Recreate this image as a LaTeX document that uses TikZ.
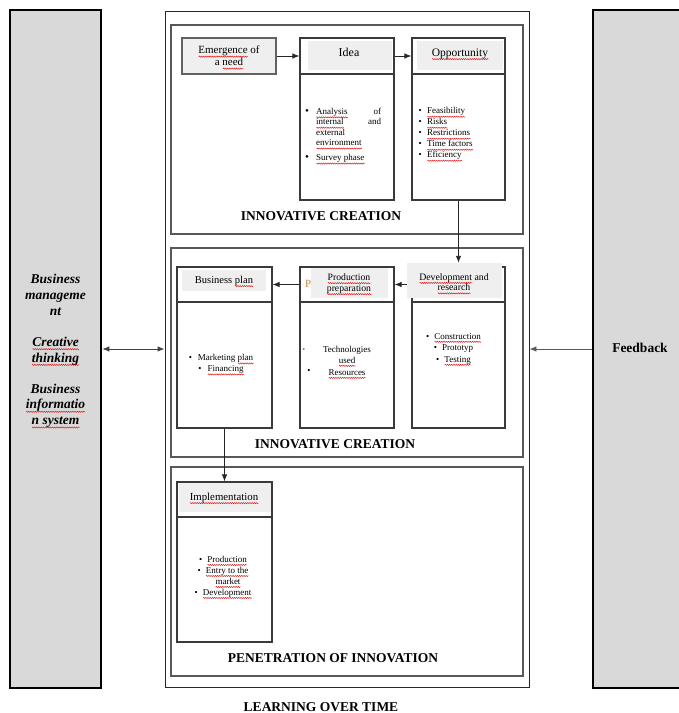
\documentclass[tikz,border=0pt]{standalone}
\usepackage{fontspec}
\setmainfont{Liberation Serif}
\usetikzlibrary{arrows.meta,decorations.pathmorphing}
\definecolor{panelgray}{HTML}{D9D9D9}
\definecolor{headgray}{HTML}{EFEFEF}
\definecolor{boxline}{HTML}{3A3A3A}
\definecolor{porange}{HTML}{C8843C}
\definecolor{spellred}{HTML}{E02020}
\newsavebox\sqbox
\newcommand\sq[1]{\sbox\sqbox{#1}\rlap{\raisebox{-2.8pt}[0pt][0pt]{\tikz[x=1pt,y=1pt,baseline=0pt]{\draw[spellred,line width=0.5pt,decorate,decoration={zigzag,amplitude=0.6pt,segment length=2.2pt}] (0,0) -- (\the\wd\sqbox,0);}}}\usebox\sqbox}
\begin{document}
\begin{tikzpicture}[x=1pt,y=-1pt,
  panel/.style={draw=black, line width=2.6pt, fill=panelgray, inner sep=0},
  mainbox/.style={draw=black!85, line width=0.9pt, inner sep=0},
  sect/.style={draw=boxline!85, line width=1.3pt, inner sep=0},
  cell/.style={draw=boxline, line width=1.1pt, inner sep=0},
  headfill/.style={fill=headgray, inner sep=0},
  txt/.style={inner sep=0, font=\fontsize{9}{11}\selectfont},
  titletxt/.style={inner sep=0, font=\bfseries\fontsize{13.5}{16}\selectfont},
  arr/.style={-{Latex[length=7pt,width=5.5pt]}, line width=0.9pt, draw=black!85},
  darr/.style={{Latex[length=7pt,width=5.5pt]}-{Latex[length=7pt,width=5.5pt]}, line width=0.9pt, draw=black!75}
]
\useasboundingbox (0,0) rectangle (679,713);

% side panels
\node[panel, minimum width=91pt, minimum height=678pt] (leftp) at (55.5,349) {};
\node[panel, minimum width=92pt, minimum height=678pt] (rightp) at (639,349) {};
\node[inner sep=0, align=center, font=\bfseries\itshape\fontsize{13.5}{15.7}\selectfont] (lefttxt) at (55.5,351)
  {Business\\manageme\\nt\\[15.5pt]\sq{Creative}\\\sq{thinking}\\[15.5pt]Business\\\sq{informatio}\\\sq{n system}};
\node[titletxt, anchor=mid] (feedtxt) at (640,350) {Feedback};

% main frame and sections
\node[mainbox, minimum width=364pt, minimum height=676pt] (main) at (347,349) {};
\node[sect, minimum width=352pt, minimum height=209pt] (sec1) at (347,129.5) {};
\node[sect, minimum width=352pt, minimum height=209pt] (sec2) at (347,352.5) {};
\node[sect, minimum width=352pt, minimum height=209pt] (sec3) at (347,571.5) {};

% ---- row 1
\node[cell, fill=headgray, draw=boxline!80, minimum width=94pt, minimum height=36pt, align=center,
  font=\fontsize{11}{12}\selectfont] (emerg) at (229,56) {\sq{Emergence} of\\a \sq{need}};

\node[cell, minimum width=94pt, minimum height=36pt] (ideatop) at (347,56) {};
\node[cell, minimum width=94pt, minimum height=126pt] (ideabody) at (347,137) {};
\node[headfill, minimum width=84pt, minimum height=29pt] (ideafill) at (350,55.5) {};
\node[inner sep=0, anchor=mid, font=\fontsize{12}{14}\selectfont] (ideatxt) at (349,54) {Idea};

\node[cell, minimum width=93pt, minimum height=36pt] (opptop) at (458.5,56) {};
\node[cell, minimum width=93pt, minimum height=126pt] (oppbody) at (458.5,137) {};
\node[headfill, minimum width=86pt, minimum height=29pt] (oppfill) at (460,55.5) {};
\node[inner sep=0, anchor=mid, font=\fontsize{11.5}{14}\selectfont] (opptxt) at (460,54) {\sq{Opportunity}};

\node[txt, anchor=north west, align=left, font=\fontsize{9}{10.4}\selectfont] (idealist) at (305,108)
  {\makebox[11pt][l]{\fontsize{11}{10.4}\selectfont\textbullet}\hbox to 65pt{\sq{Analysis}\hfill of}\\
   \hspace*{11pt}\hbox to 65pt{\sq{internal}\hfill and}\\
   \hspace*{11pt}external\\
   \hspace*{11pt}\sq{environment}\\[4.6pt]
   \makebox[11pt][l]{\fontsize{11}{10.4}\selectfont\textbullet}\sq{Survey phase}};

\node[txt, anchor=north west, align=left] (opplist) at (418.5,107.5)
  {\makebox[8.5pt][l]{\textbullet}\sq{Feasibility}\\
   \makebox[8.5pt][l]{\textbullet}\sq{Risks}\\
   \makebox[8.5pt][l]{\textbullet}\sq{Restrictions}\\
   \makebox[8.5pt][l]{\textbullet}\sq{Time factors}\\
   \makebox[8.5pt][l]{\textbullet}\sq{Eficiency}};

\node[titletxt, anchor=mid] (title1) at (321,218) {INNOVATIVE CREATION};

% ---- row 2
\node[cell, minimum width=95pt, minimum height=35pt] (bustop) at (224.5,284.5) {};
\node[cell, minimum width=95pt, minimum height=126pt] (busbody) at (224.5,365) {};
\node[headfill, minimum width=84pt, minimum height=21pt] (busfill) at (224,280.5) {};
\node[inner sep=0, anchor=mid, font=\fontsize{10.5}{12}\selectfont] (bustxt) at (224,281) {Business \sq{plan}};

\node[cell, minimum width=94pt, minimum height=35pt] (prodtop) at (347,284.5) {};
\node[cell, minimum width=94pt, minimum height=126pt] (prodbody) at (347,365) {};
\node[inner sep=0, anchor=mid west, text=porange, font=\fontsize{11}{12}\selectfont] (pfrag) at (305,285) {P};
\node[headfill, minimum width=77pt, minimum height=30pt] (prodfill) at (349.5,283) {};
\node[inner sep=0, align=center, font=\fontsize{9.7}{11}\selectfont] (prodtxt) at (349,283.5) {\sq{Production}\\\sq{preparation}};

\node[cell, minimum width=93pt, minimum height=35pt] (devtop) at (458.5,284.5) {};
\node[cell, minimum width=93pt, minimum height=126pt] (devbody) at (458.5,365) {};
\node[headfill, minimum width=95pt, minimum height=35pt] (devfill) at (454.5,280.5) {};
\node[inner sep=0, align=center, font=\fontsize{9.8}{10.5}\selectfont] (devtxt) at (454,282) {\sq{Development} and\\\sq{research}};

\node[txt, align=center] (buslist) at (221,364)
  {\textbullet\hspace{6pt}Marketing \sq{plan}\\\textbullet\hspace{6pt}\sq{Financing}};

\node[inner sep=0, anchor=mid, font=\fontsize{6}{6}\selectfont] (pb1) at (304,349) {\textbullet};
\node[inner sep=0, anchor=mid, font=\fontsize{9}{9}\selectfont] (pb2) at (309,371.5) {\textbullet};
\node[txt, align=center] (prodlist) at (347,360.5) {Technologies\\\sq{used}\\[1pt]\sq{Resources}};

\node[txt, align=center, font=\fontsize{9}{11.5}\selectfont] (devlist) at (453.5,348.5)
  {\textbullet\hspace{5pt}\sq{Construction}\\\textbullet\hspace{5pt}Prototyp\\\textbullet\hspace{5pt}\sq{Testing}};

\node[titletxt, anchor=mid] (title2) at (335,446) {INNOVATIVE CREATION};

% ---- row 3
\node[cell, minimum width=95pt, minimum height=35pt] (impltop) at (224.5,499.5) {};
\node[cell, minimum width=95pt, minimum height=125pt] (implbody) at (224.5,579.5) {};
\node[headfill, minimum width=92pt, minimum height=29pt] (implfill) at (224.5,497.5) {};
\node[inner sep=0, anchor=mid, font=\fontsize{10.8}{12}\selectfont] (impltxt) at (224,498) {\sq{Implementation}};

\node[txt, align=center, font=\fontsize{9}{11}\selectfont] (impllist) at (223,576.5)
  {\textbullet\hspace{5pt}\sq{Production}\\\textbullet\hspace{5pt}\sq{Entry to the}\\\hspace*{10pt}\sq{market}\\\textbullet\hspace{5pt}\sq{Development}};

\node[titletxt, anchor=mid] (title3) at (333,660) {PENETRATION OF INNOVATION};
\node[titletxt, anchor=mid] (title4) at (321,709) {LEARNING OVER TIME};

% ---- connectors
\draw[arr] (emerg.east) -- (emerg.east -| ideatop.west);
\draw[arr] (ideatop.east) -- (opptop.west);
\draw[arr] (oppbody.south) -- (oppbody.south |- devfill.north);
\draw[arr] (devtop.west -| devfill.west) -- (prodtop.east);
\draw[arr] (prodtop.west) -- (bustop.east);
\draw[arr] (busbody.south) -- (impltop.north);
\draw[darr] (leftp.east) -- (main.west);
\draw[arr, draw=black!65] (rightp.west) -- (main.east);
\end{tikzpicture}
\end{document}
